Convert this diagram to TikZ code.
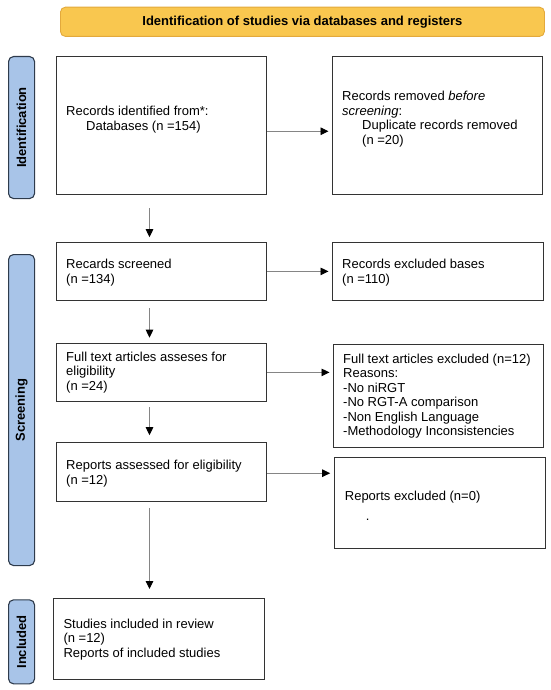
\documentclass[tikz,border=0pt]{standalone}
\usepackage{fontspec}
\setmainfont{Liberation Sans}
\usetikzlibrary{arrows.meta,positioning}
\definecolor{bannerfill}{HTML}{F9C74F}
\definecolor{bannerdraw}{HTML}{E3A93C}
\definecolor{sidefill}{HTML}{A8C4E8}
\definecolor{sidedraw}{HTML}{2E3B4C}
\definecolor{boxdraw}{HTML}{333333}
\definecolor{arrowline}{HTML}{858585}
\tikzset{
  x=1pt,y=-1pt,
  flowbox/.style={draw=boxdraw,line width=1.1pt,fill=white,rectangle,inner sep=0pt,anchor=north west},
  sidebar/.style={draw=sidedraw,line width=1.1pt,fill=sidefill,rounded corners=5pt,inner sep=0pt,anchor=north west},
  banner/.style={draw=bannerdraw,line width=0.9pt,fill=bannerfill,rounded corners=5pt,inner sep=0pt,anchor=north west,font=\fontsize{13}{15}\selectfont\bfseries},
  boxtext/.style={inner sep=0pt,anchor=west,align=left,font=\fontsize{13}{14.5}\selectfont},
  sidetext/.style={inner sep=0pt,rotate=90,font=\fontsize{13}{15}\selectfont\bfseries},
  flowarrow/.style={draw=arrowline,line width=0.9pt,-{Triangle[length=8pt,width=7.5pt,color=black]}},
}
\begin{document}
\begin{tikzpicture}
\useasboundingbox (0,0) rectangle (550,690);
% banner
\node[banner,minimum width=484pt,minimum height=29.3pt] (ban) at (60,6.7) {Identification of studies via databases and registers};
% side bars
\node[sidebar,minimum width=26pt,minimum height=142pt] (sid) at (8,56) {};
\node[sidetext] (sidt) at (sid.center) {Identification};
\node[sidebar,minimum width=26pt,minimum height=311pt] (sscr) at (8,254) {};
\node[sidetext] (sscrt) at (sscr.center) {Screening};
\node[sidebar,minimum width=26pt,minimum height=84pt] (sinc) at (8,599.3) {};
\node[sidetext] (sinct) at (sinc.center) {Included};
% boxes
\node[flowbox,minimum width=210pt,minimum height=138pt] (b1) at (56,56) {};
\node[flowbox,minimum width=210pt,minimum height=138pt] (b2) at (332,56) {};
\node[flowbox,minimum width=210pt,minimum height=58.3pt] (b3) at (56,241.7) {};
\node[flowbox,minimum width=211pt,minimum height=58.3pt] (b4) at (332,241.7) {};
\node[flowbox,minimum width=210pt,minimum height=58.3pt] (b5) at (56,342.7) {};
\node[flowbox,minimum width=210pt,minimum height=103.3pt] (b6) at (333,344) {};
\node[flowbox,minimum width=210pt,minimum height=59.3pt] (b7) at (56,441.7) {};
\node[flowbox,minimum width=211.3pt,minimum height=91.6pt] (b8) at (333.7,456.7) {};
\node[flowbox,minimum width=210.7pt,minimum height=81pt] (b9) at (53.3,598.3) {};
% texts
\node[boxtext] (t1) at ([xshift=10pt,yshift=6pt]b1.west) {Records identified from*:\\\hspace*{20pt}Databases (n =154)};
\node[boxtext] (t2) at ([xshift=10pt,yshift=6.6pt]b2.west) {Records removed \textit{before}\\\textit{screening}:\\\hspace*{20pt}Duplicate records removed\\\hspace*{20pt}(n =20)};
\node[boxtext] (t3) at ([xshift=10pt,yshift=-1pt]b3.west) {Recards screened\\(n =134)};
\node[boxtext] (t4) at ([xshift=10pt,yshift=-1pt]b4.west) {Records excluded bases\\(n =110)};
\node[boxtext] (t5) at ([xshift=10pt]b5.west) {Full text articles asseses for\\eligibility\\(n =24)};
\node[boxtext] (t6) at ([xshift=10pt]b6.west) {Full text articles excluded (n=12)\\Reasons:\\-No niRGT\\-No RGT-A comparison\\-Non English Language\\-Methodology Inconsistencies};
\node[boxtext] (t7) at ([xshift=10pt,yshift=-1.7pt]b7.west) {Reports assessed for eligibility\\(n =12)};
\node[boxtext] (t8) at ([xshift=11pt,yshift=-2.5pt]b8.west) {Reports excluded (n=0)\\[5.5pt]\hspace*{21pt}.};
\node[boxtext] (t9) at ([xshift=10pt]b9.west) {Studies included in review\\(n =12)\\Reports of included studies};
% arrows
\coordinate (ax) at (149.5,0);
\coordinate (a1) at ([yshift=-5.7pt]b1.east);
\coordinate (a7) at ([yshift=-1.3pt]b7.east);
\draw[flowarrow,shorten >=3.5pt] (a1) -- (b2.west |- a1);
\draw[flowarrow,shorten >=3.5pt] (b3.east) -- (b4.west |- b3.east);
\draw[flowarrow,shorten >=3.5pt] (b5.east) -- (b6.west |- b5.east);
\draw[flowarrow,shorten >=3.5pt] (a7) -- (b8.west |- a7);
\draw[flowarrow,shorten <=13pt,shorten >=4.5pt] (b1.south -| ax) -- (b3.north -| ax);
\draw[flowarrow,shorten <=7pt,shorten >=5pt] (b3.south -| ax) -- (b5.north -| ax);
\draw[flowarrow,shorten <=5pt,shorten >=6.5pt] (b5.south -| ax) -- (b7.north -| ax);
\draw[flowarrow,shorten <=5.7pt,shorten >=9.3pt] (b7.south -| ax) -- (b9.north -| ax);
\end{tikzpicture}
\end{document}
